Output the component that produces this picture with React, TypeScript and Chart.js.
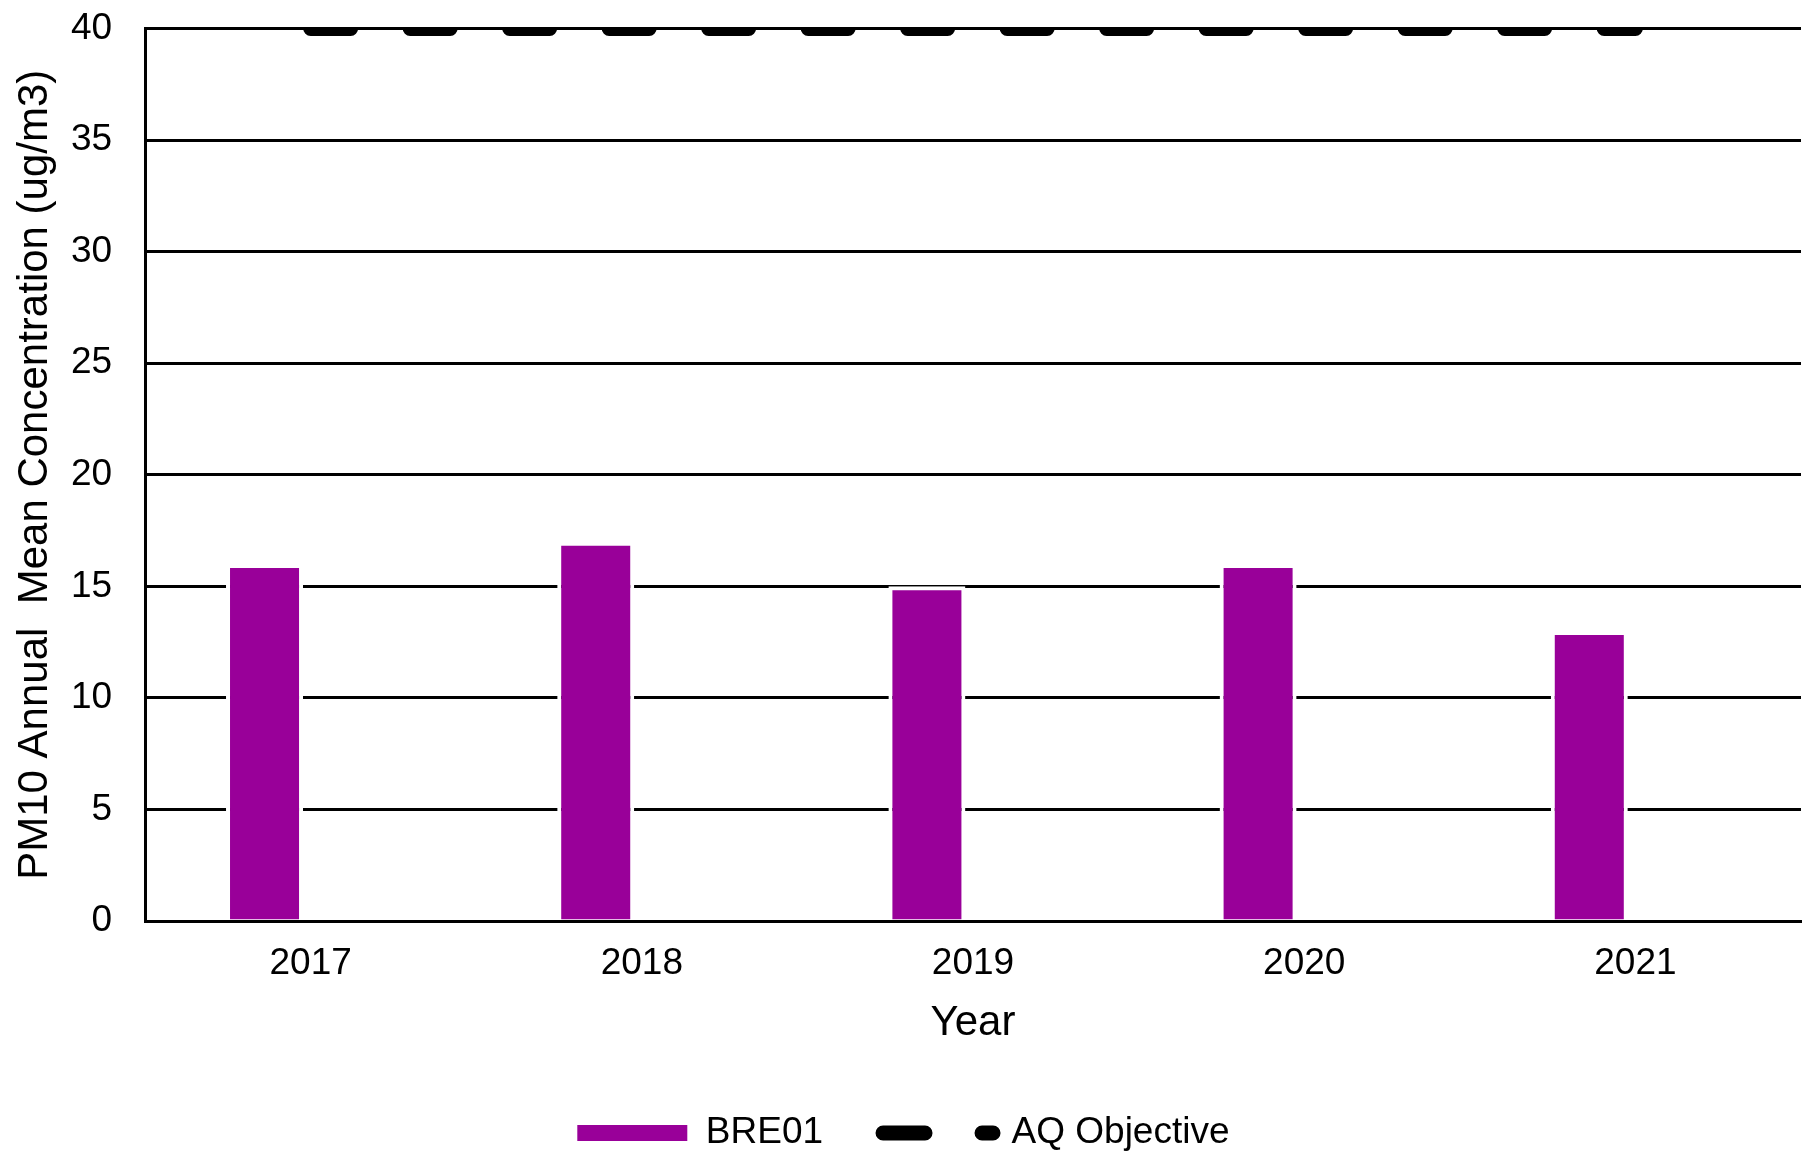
import React, { useEffect, useRef } from 'react';
import { Chart, registerables } from 'chart.js';

Chart.register(...registerables);

const years: string[] = ['2017', '2018', '2019', '2020', '2021'];
const bre01Values: number[] = [16, 17, 15, 16, 13];
const aqObjectiveValues: number[] = [40, 40, 40, 40, 40];
const emptySlot: (number | null)[] = [null, null, null, null, null];
const yMin = 0;
const yMax = 40;
const yStep = 5;

const FONT = "'Liberation Sans', Arial, sans-serif";
const PURPLE = '#990099';

export default function App() {
  const canvasRef = useRef<HTMLCanvasElement | null>(null);

  useEffect(() => {
    if (!canvasRef.current) return;
    const chart = new Chart(canvasRef.current, {
      type: 'bar',
      data: {
        labels: years,
        datasets: [
          {
            type: 'bar',
            label: 'BRE01',
            data: bre01Values,
            backgroundColor: PURPLE,
            borderColor: '#ffffff',
            borderWidth: 4,
            borderSkipped: 'start',
            categoryPercentage: 0.557,
            barPercentage: 0.835,
          } as any,
          {
            type: 'bar',
            label: '',
            data: emptySlot,
            backgroundColor: 'rgba(0,0,0,0)',
            categoryPercentage: 0.557,
            barPercentage: 0.835,
          } as any,
          {
            type: 'line',
            label: 'AQ Objective',
            data: aqObjectiveValues,
            borderColor: '#000000',
            backgroundColor: '#000000',
            borderWidth: 15,
            borderDash: [40, 59.5],
            borderCapStyle: 'round',
            pointRadius: 0,
            fill: false,
            clip: { left: false, top: 0, right: false, bottom: false },
          } as any,
        ],
      },
      options: {
        animation: false,
        responsive: true,
        maintainAspectRatio: false,
        layout: { padding: { left: 5.8, right: 2, top: 28.5, bottom: -5.5 } },
        plugins: {
          tooltip: { enabled: false },
          legend: {
            position: 'bottom',
            labels: {
              usePointStyle: true,
              pointStyleWidth: 110,
              boxHeight: 16,
              padding: 60,
              color: '#000',
              font: { family: FONT, size: 37 },
              filter: (item: any) => item.text !== '',
              generateLabels: (chart: any) => {
                const base = Chart.defaults.plugins.legend.labels.generateLabels(chart);
                return base.map((it: any) => {
                  if (it.text === 'BRE01') {
                    return { ...it, pointStyle: 'rect', fillStyle: PURPLE, strokeStyle: PURPLE, lineWidth: 0 };
                  }
                  if (it.text === 'AQ Objective') {
                    return {
                      ...it,
                      pointStyle: 'line',
                      strokeStyle: '#000',
                      fillStyle: '#000',
                      lineWidth: 15,
                      lineDash: [42, 57],
                      lineCap: 'round',
                    };
                  }
                  return it;
                });
              },
            },
          },
        },
        scales: {
          x: {
            type: 'category',
            offset: true,
            grid: {
              display: true,
              drawOnChartArea: false,
              drawTicks: true,
              tickLength: 19,
              color: 'rgba(0,0,0,0)',
              tickColor: 'rgba(0,0,0,0)',
            },
            border: { display: true, color: '#000', width: 3 },
            ticks: {
              color: '#000',
              padding: 2,
              font: { family: FONT, size: 37 },
              maxRotation: 0,
            },
            title: {
              display: true,
              text: 'Year',
              color: '#000',
              font: { family: FONT, size: 42 },
              padding: { top: 9.4, bottom: 6.3 },
            },
          },
          y: {
            min: yMin,
            max: yMax,
            grid: {
              color: '#000',
              lineWidth: 3,
              drawTicks: true,
              tickLength: 31,
              tickColor: 'rgba(0,0,0,0)',
            },
            border: { display: true, color: '#000', width: 3 },
            ticks: {
              stepSize: yStep,
              color: '#000',
              padding: 2,
              font: { family: FONT, size: 37 },
            },
            title: {
              display: true,
              text: 'PM10 Annual  Mean Concentration (ug/m3)',
              color: '#000',
              font: { family: FONT, size: 42 },
              padding: { top: 4, bottom: 8.7 },
            },
          },
        },
      } as any,
    });
    return () => chart.destroy();
  }, []);

  return (
    <div style={{ position: 'fixed', left: 0, top: 0, width: '1803px', height: '1156px', background: '#fff' }}>
      <canvas ref={canvasRef} />
    </div>
  );
}
